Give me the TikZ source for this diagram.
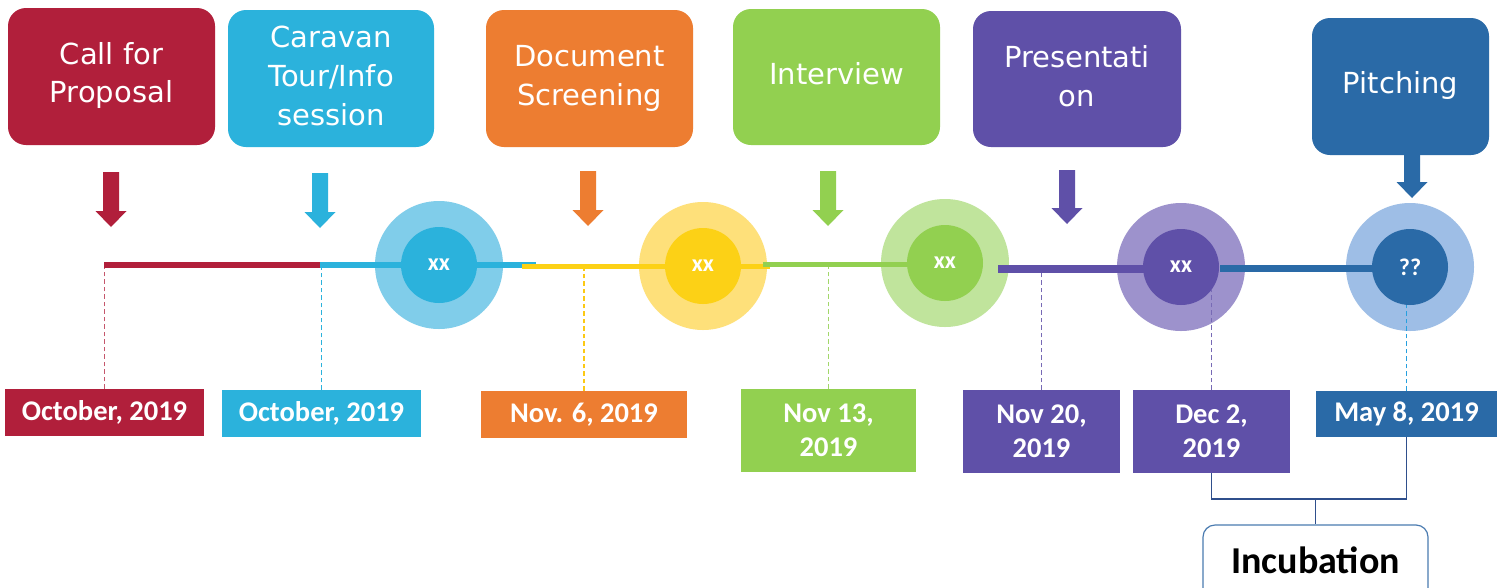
\documentclass[tikz,border=0pt]{standalone}
\usepackage{fontspec}
\setmainfont{DejaVu Sans}
\newfontfamily\datefont{Carlito}
\definecolor{cred}{HTML}{B11F3B}
\definecolor{ccyan}{HTML}{2BB2DC}
\definecolor{corange}{HTML}{ED7D31}
\definecolor{cgreen}{HTML}{92D050}
\definecolor{cpurple}{HTML}{5F50A8}
\definecolor{cblue}{HTML}{2A6AA7}
\definecolor{cyellow}{HTML}{FCD116}
\definecolor{ocyan}{HTML}{80CDEA}
\definecolor{oyellow}{HTML}{FEE07A}
\definecolor{ogreen}{HTML}{C0E49C}
\definecolor{opurple}{HTML}{9D92CC}
\definecolor{oblue}{HTML}{9EBEE6}
\definecolor{cnavy}{HTML}{2F4F8C}
\definecolor{cborder}{HTML}{4A7BB0}
\newcommand\blkarrow[4]{% x, ytop, ytip, colour
  \fill[#4] (#1-8,#2) -- (#1+8,#2) -- (#1+8,#3-16) -- (#1+15.5,#3-16) -- (#1,#3) -- (#1-15.5,#3-16) -- (#1-8,#3-16) -- cycle;}
\begin{document}
\begin{tikzpicture}[x=1pt,y=-1pt,
  topbox/.style={rounded corners=18pt, inner sep=0pt},
  toptext/.style={inner sep=0pt, text=white, align=center,
    font=\fontsize{29}{39}\selectfont},
  datebox/.style={inner sep=0pt, text=white, align=center,
    font=\datefont\bfseries\fontsize{28.5}{34}\selectfont},
  outerring/.style={circle, inner sep=0pt, minimum size=128pt},
  innerdot/.style={circle, inner sep=0pt, minimum size=76pt, text=white,
    font=\datefont\bfseries\fontsize{24}{28}\selectfont},
  tl/.style={line width=6pt},
  dsh/.style={line width=1.3pt, dash pattern=on 4.5pt off 3pt},
  brk/.style={line width=1.3pt, cnavy}]
\useasboundingbox (0,0) rectangle (1502,587);
\fill[white] (0,0) rectangle (1502,587);

% top boxes
\node[topbox, fill=cred, minimum width=207pt, minimum height=137pt] (t1) at (111.5,76.5) {};
\node[toptext] (t1x) at ([yshift=1pt]t1.center) {Call for\\[-1pt]Proposal};
\node[topbox, fill=ccyan, minimum width=206pt, minimum height=137pt] (t2) at (331,78.5) {};
\node[toptext] (t2x) at ([yshift=3pt]t2.center) {Caravan\\Tour/Info\\session};
\node[topbox, fill=corange, minimum width=207pt, minimum height=137pt] (t3) at (589.5,78.5) {};
\node[toptext] (t3x) at (t3.center) {Document\\Screening};
\node[topbox, fill=cgreen, minimum width=207pt, minimum height=136pt] (t4) at (836.5,77) {};
\node[toptext] (t4x) at ([yshift=3pt]t4.center) {Interview};
\node[topbox, fill=cpurple, minimum width=208pt, minimum height=136pt] (t5) at (1077,79) {};
\node[toptext] (t5x) at ([yshift=2.5pt]t5.center) {Presentati\\on};
\node[topbox, fill=cblue, minimum width=177pt, minimum height=137pt] (t6) at (1400.5,86.5) {};
\node[toptext] (t6x) at ([yshift=1pt]t6.center) {Pitching};

% block arrows
\blkarrow{111}{172}{227}{cred}
\blkarrow{320}{173}{228}{ccyan}
\blkarrow{588}{171}{226}{corange}
\blkarrow{828}{171}{226}{cgreen}
\blkarrow{1067}{170}{224}{cpurple}
\blkarrow{1412}{150}{198}{cblue}

% outer rings
\node[outerring, fill=ocyan] (c1) at (439,265) {};
\node[outerring, fill=oyellow] (c2) at (703,266) {};
\node[outerring, fill=ogreen] (c3) at (945,263) {};
\node[outerring, fill=opurple] (c4) at (1181,267) {};
\node[outerring, fill=oblue] (c5) at (1410,267) {};

% timeline
\coordinate (a0) at (104,265);
\coordinate (a1) at (320,265);
\coordinate (a2) at (536,265);
\coordinate (b0) at (522,266.5);
\coordinate (b1) at (770,266.5);
\coordinate (g0) at (763,264.5);
\coordinate (p0) at (998,269);
\coordinate (q0) at (1220,268.5);
\draw[tl, cred] (a0) -- (a1);
\draw[tl, ccyan] (a1) -- (a2);
\draw[line width=5pt, cyellow] (b0) -- (b1);
\draw[line width=5pt, cgreen] (g0) -- (g0 -| c3);
\draw[line width=7.5pt, cpurple] (p0) -- (p0 -| c4);
\draw[line width=7pt, cblue] (q0) -- (q0 -| c5);

% inner dots
\node[innerdot, fill=ccyan] (i1) at (c1) {xx};
\node[innerdot, fill=cyellow] (i2) at (c2) {xx};
\node[innerdot, fill=cgreen] (i3) at (c3) {xx};
\node[innerdot, fill=cpurple] (i4) at (c4) {xx};
\node[innerdot, fill=cblue] (i5) at (c5) {??};

% date boxes
\node[datebox, fill=cred, minimum width=199pt, minimum height=47pt] (d1) at (104.5,412.5) {October, 2019};
\node[datebox, fill=ccyan, minimum width=199pt, minimum height=47pt] (d2) at (321.5,413.5) {October, 2019};
\node[datebox, fill=corange, minimum width=206pt, minimum height=47pt] (d3) at (584,414.5) {Nov. 6, 2019};
\node[datebox, fill=cgreen, minimum width=175pt, minimum height=83pt] (d4) at (828.5,430.5) {Nov 13,\\2019};
\node[datebox, fill=cpurple, minimum width=157pt, minimum height=83pt] (d5) at (1041.5,431.5) {Nov 20,\\2019};
\node[datebox, fill=cpurple, minimum width=157pt, minimum height=83pt] (d6) at (1211.5,431.5) {Dec 2,\\2019};
\node[datebox, fill=cblue, minimum width=181pt, minimum height=46pt] (d7) at (1406.5,414) {May 8, 2019};

% dashed leaders
\draw[dsh, cred!75] (d1.north) -- (d1.north |- 0,268);
\draw[dsh, ccyan] (d2.north) -- (d2.north |- 0,268);
\draw[dsh, cyellow!90!orange] (d3.north) -- (d3.north |- 0,269);
\draw[dsh, cgreen!85] (d4.north) -- (d4.north |- 0,267);
\draw[dsh, cpurple!85] (d5.north) -- (d5.north |- 0,273);
\draw[dsh, cpurple!85] (d6.north) -- (d6.north |- 0,290);
\draw[dsh, ccyan!90!blue] (d7.north) -- (d7.north |- 0,305);

% incubation
\node[draw=cborder, line width=1.2pt, rounded corners=12pt, fill=white,
  minimum width=225pt, minimum height=75pt, inner sep=0pt] (inc) at (1315.5,562.5) {};
\node[inner sep=0pt, font=\datefont\bfseries\fontsize{38}{42}\selectfont] (incx) at ([yshift=2pt]inc.center) {Incubation};
\coordinate (jn) at (inc.north |- 0,499);
\draw[brk] (d6.south) |- (jn) -| (d7.south);
\draw[brk] (jn) -- (inc.north);
\end{tikzpicture}
\end{document}
